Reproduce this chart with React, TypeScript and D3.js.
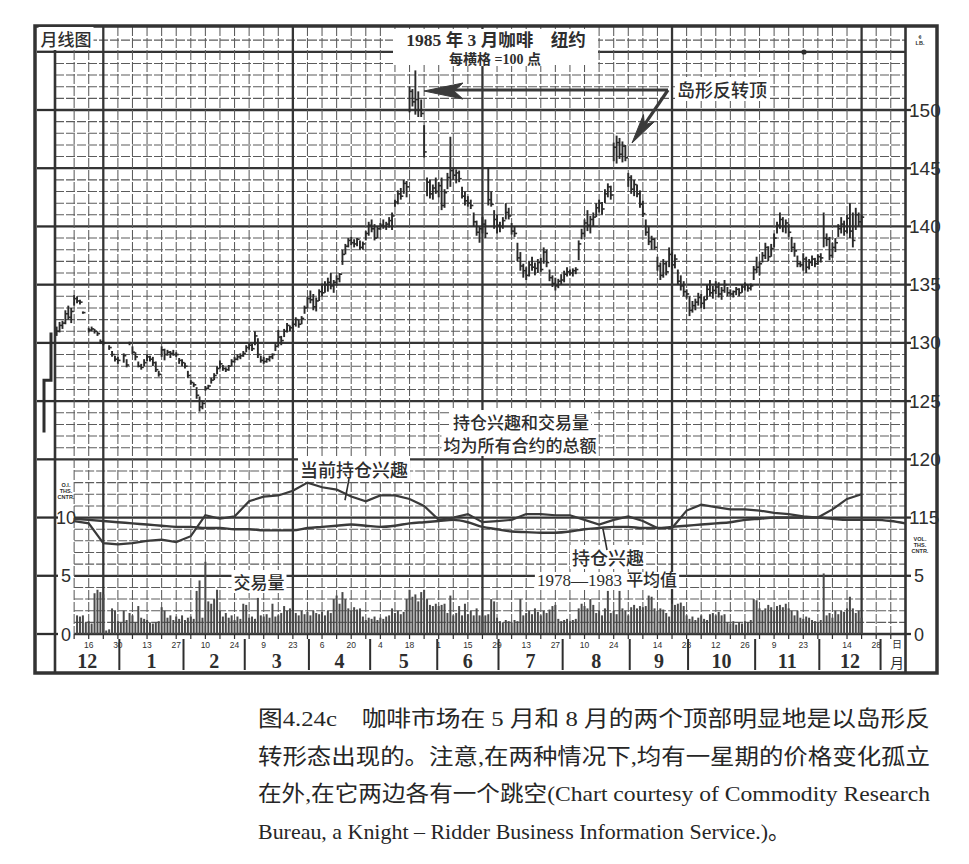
import React, { useEffect, useRef } from "react";
import * as d3 from "d3";

type Bar = [number, number, number] | null;

// March 1985 coffee (New York), daily high / low / close in cents per lb.
// One entry per weekday, starting Thu 1 Dec 1983; null = no bar printed.
const priceStart = "1983-12-01";
const priceBars: Bar[] = [
  [131.4, 130.6, 131.0], [131.8, 130.9, 131.5],
  [131.9, 131.2, 131.7], [132.8, 131.6, 132.5], [133.2, 132.0, 132.2], [133.0, 131.7, 132.7], [134.1, 133.2, 133.8],
  [134.0, 133.4, 133.6], [133.7, 133.3, 133.5], [132.7, 132.5, 132.6], null, [131.3, 130.9, 131.1],
  [131.4, 131.0, 131.2], [131.2, 130.8, 131.0], [131.0, 130.6, 130.8], [130.3, 129.9, 130.1], [130.2, 129.8, 130.0],
  null, [129.8, 129.4, 129.6], [129.3, 128.8, 129.0], [128.9, 128.4, 128.6], [128.8, 128.2, 128.5],
  null, [129.1, 128.3, 128.9], [128.6, 127.9, 128.1], [130.1, 129.8, 130.0], [129.7, 129.0, 129.2],
  [129.2, 128.5, 128.8], [128.4, 127.9, 128.0], [128.2, 127.7, 127.9], [128.6, 128.0, 128.3], [129.0, 128.4, 128.8],
  [128.9, 128.4, 128.6], [128.8, 128.0, 128.3], [128.4, 127.5, 127.7], [127.6, 127.1, 127.3], [129.7, 128.8, 129.4],
  [129.5, 128.5, 129.0], [129.4, 128.9, 129.2], [129.3, 128.7, 129.1], [129.4, 128.9, 129.0], [129.2, 128.8, 129.0],
  [128.7, 128.2, 128.5], [128.6, 128.0, 128.3], [128.3, 127.8, 128.0], [127.6, 127.0, 127.2], [126.8, 126.4, 126.6],
  [126.6, 126.2, 126.4], [126.2, 125.2, 125.5], [125.4, 124.1, 124.5], [125.0, 124.3, 124.8], [126.3, 125.9, 126.1],
  [126.4, 126.0, 126.3], [127.0, 126.5, 126.8], [127.4, 126.8, 127.2], [128.0, 127.3, 127.8], [128.5, 127.8, 128.2],
  [128.1, 127.6, 127.8], [127.9, 127.5, 127.7], [128.1, 127.6, 128.0], [128.6, 128.0, 128.4], [128.8, 128.3, 128.6],
  [129.0, 128.5, 128.8], [129.1, 128.6, 128.9], [129.3, 128.8, 129.1], [129.8, 129.2, 129.6], [130.0, 129.4, 129.8],
  [129.9, 129.3, 129.5], [131.0, 129.8, 130.6], [130.4, 128.7, 129.0], [128.9, 128.3, 128.5], [128.8, 128.2, 128.4],
  [128.7, 128.3, 128.6], [128.9, 128.4, 128.8], [129.1, 128.6, 129.0], [129.9, 129.3, 129.7], [131.1, 129.7, 130.5],
  [130.6, 129.8, 130.2], [131.2, 130.5, 131.0], [131.7, 130.9, 131.5], [131.5, 131.0, 131.3], [131.8, 131.2, 131.6],
  [132.2, 131.4, 132.0], [132.0, 131.3, 131.6], [132.3, 131.6, 132.1], [133.2, 132.5, 133.0], [134.0, 133.0, 133.8],
  [134.5, 133.4, 133.7], [134.2, 132.8, 133.1], [133.9, 132.7, 133.6], [134.6, 133.6, 134.4], [135.1, 134.0, 134.3],
  [135.3, 134.3, 135.0], [135.6, 134.4, 135.2], [136.0, 134.6, 134.9], [135.4, 134.3, 135.2], [135.8, 134.9, 135.5],
  [136.0, 135.2, 135.9], [138.0, 136.7, 137.6], [138.5, 137.6, 138.3], [139.0, 138.2, 138.8], [139.1, 138.4, 138.6],
  [138.9, 138.2, 138.5], [139.0, 138.3, 138.9], [138.8, 138.0, 138.2], [138.7, 138.0, 138.5], [139.6, 138.8, 139.4],
  [140.4, 139.2, 140.1], [140.6, 139.5, 139.8], [140.2, 138.8, 139.0], [140.0, 139.0, 139.8], [140.3, 139.7, 140.1],
  [140.6, 139.8, 140.0], [140.4, 139.7, 140.2], [140.8, 139.9, 140.5], [141.2, 139.7, 140.9], [142.3, 141.7, 142.1],
  [143.1, 141.9, 142.8], [143.3, 142.3, 142.6], [144.0, 142.8, 143.7], [143.9, 142.5, 143.4], [152.0, 149.8, 151.6],
  [151.8, 150.3, 150.7], [153.4, 149.6, 150.9], [151.6, 149.4, 150.0], [150.9, 149.4, 149.7], [148.7, 145.9, 146.4],
  [144.2, 142.6, 143.8], [144.0, 142.4, 142.8], [143.6, 142.3, 143.3], [144.2, 142.8, 143.0], [143.8, 142.5, 143.5],
  [144.2, 141.4, 141.8], [143.2, 141.6, 142.9], [144.6, 143.2, 144.2], [147.7, 143.4, 144.8], [145.1, 144.0, 144.4],
  [144.9, 143.7, 144.6], [144.8, 143.8, 144.1], [143.4, 142.4, 142.6], [143.0, 141.8, 142.2], [142.6, 141.7, 142.0],
  [142.3, 141.5, 141.8], [141.2, 140.0, 140.4], [140.5, 139.2, 139.5], [140.0, 138.6, 139.8], [140.8, 139.4, 140.2],
  [140.6, 139.0, 139.4], [145.1, 141.8, 142.3], [143.0, 141.7, 141.9], [141.4, 139.8, 140.6], [141.0, 139.4, 140.1],
  [140.4, 139.5, 140.0], [140.8, 139.8, 140.5], [142.0, 140.6, 141.2], [141.6, 140.6, 140.9], [140.3, 139.3, 139.6],
  [140.0, 139.1, 139.4], [138.6, 137.0, 137.3], [137.8, 136.2, 136.6], [136.8, 135.6, 136.2], [136.5, 135.4, 135.8],
  [137.0, 135.7, 136.7], [137.4, 136.2, 136.5], [136.9, 135.8, 136.4], [137.2, 136.0, 136.9], [137.3, 136.1, 136.3],
  [138.2, 136.8, 137.8], [138.0, 136.5, 136.9], [136.3, 135.3, 135.6], [135.8, 134.8, 135.1], [135.6, 134.5, 134.9],
  [135.5, 134.7, 135.3], [135.9, 135.0, 135.4], [136.2, 135.2, 135.9], [136.5, 135.7, 136.1], [136.3, 135.8, 136.0],
  [136.4, 135.7, 136.2], [136.5, 135.9, 136.3], [138.8, 137.1, 138.5], [139.8, 138.9, 139.4], [140.6, 139.1, 140.3],
  [141.4, 139.6, 140.1], [140.9, 139.4, 140.6], [141.2, 140.0, 140.8], [142.0, 140.8, 141.6], [142.3, 141.2, 142.0],
  [142.1, 141.0, 141.5], [143.2, 142.0, 142.8], [143.7, 142.5, 143.4], [143.5, 142.3, 142.7], [147.2, 145.6, 146.8],
  [147.8, 145.4, 147.2], [147.6, 145.8, 146.2], [147.3, 145.5, 146.9], [147.0, 145.6, 145.9], [144.6, 143.4, 144.2],
  [144.4, 142.8, 143.2], [144.0, 142.6, 143.6], [143.6, 142.5, 142.8], [143.1, 141.6, 141.9], [142.2, 140.8, 141.1],
  [140.6, 139.2, 139.5], [140.0, 138.4, 138.7], [139.2, 138.0, 138.9], [139.0, 138.0, 138.2], [137.4, 136.2, 136.6],
  [136.9, 135.4, 135.8], [137.2, 135.6, 136.8], [137.0, 135.8, 136.1], [138.2, 136.5, 137.6], [137.8, 136.3, 136.7],
  [137.6, 136.4, 137.2], [136.3, 135.0, 135.3], [135.8, 134.5, 134.9], [135.3, 134.0, 134.4], [134.6, 133.8, 134.2],
  [134.0, 132.3, 132.8], [133.6, 132.6, 133.2], [133.8, 132.8, 133.5], [134.3, 133.2, 133.9], [134.2, 133.0, 133.4],
  [134.0, 132.9, 133.7], [135.0, 133.7, 134.6], [135.4, 134.0, 134.3], [134.9, 133.8, 134.5], [135.3, 134.2, 134.8],
  [135.2, 133.9, 134.2], [134.8, 133.7, 134.5], [135.4, 134.3, 135.0], [134.8, 134.0, 134.3], [134.6, 134.0, 134.2],
  [134.5, 133.9, 134.4], [134.8, 134.1, 134.6], [134.7, 134.0, 134.3], [135.0, 134.3, 134.8], [135.2, 134.5, 135.0],
  [135.0, 134.4, 134.7], [135.1, 134.5, 134.9], [136.6, 135.4, 136.3], [137.4, 136.0, 136.5], [137.0, 135.8, 136.8],
  [137.8, 136.9, 137.5], [138.6, 137.2, 138.2], [138.3, 137.0, 137.4], [138.5, 137.4, 138.1], [139.4, 138.2, 139.0],
  [140.4, 139.4, 140.1], [141.2, 139.8, 140.6], [140.8, 139.5, 140.0], [140.6, 139.4, 140.3], [140.2, 139.1, 139.5],
  [139.1, 137.8, 138.2], [138.6, 137.4, 137.9], [137.5, 136.5, 136.8], [137.0, 136.5, 136.7], [137.7, 136.2, 137.2],
  [137.4, 136.0, 136.5], [137.2, 136.3, 136.9], [137.5, 136.6, 137.2], [137.3, 136.5, 136.8], [137.6, 136.7, 137.4],
  [137.7, 136.9, 137.3], [141.2, 138.2, 139.0], [139.4, 138.3, 138.9], [139.1, 137.1, 137.5], [138.6, 137.3, 138.2],
  [139.0, 137.8, 138.6], [140.2, 139.1, 139.8], [140.8, 139.4, 140.2], [140.5, 139.2, 139.6], [141.0, 139.4, 140.7],
  [142.0, 139.0, 139.6], [141.2, 138.2, 138.8], [141.6, 139.7, 141.0], [141.2, 140.0, 140.4], [141.0, 139.9, 140.8],
];

// daily volume, all contracts, thousand contracts, from Mon 12 Dec 1983
const volumeStart = "1983-12-12";
const volume: number[] = [
  1.6, 1.5, 1.6, 1.0, 1.1, 0.9, 3.5, 3.8, 3.6, 3.4, 0.3, 0.4, 2.2, 2.0, 1.1,
  1.0, 2.0, 1.2, 1.8, 1.6, 1.0, 2.4, 1.4, 1.3, 1.2, 1.0, 0.9, 1.0, 1.1, 2.3,
  2.0, 1.4, 1.6, 1.2, 1.5, 1.3, 1.6, 1.2, 1.4, 1.5, 1.3, 3.7, 4.6, 1.4, 6.2,
  2.8, 2.6, 3.0, 3.8, 2.0, 1.5, 1.8, 1.4, 1.6, 1.2, 1.5, 1.3, 2.6, 2.5, 1.4,
  1.5, 1.3, 3.1, 1.6, 1.5, 1.7, 1.4, 2.6, 1.5, 1.6, 1.8, 2.4, 2.0, 2.2, 2.0,
  1.8, 1.6, 2.0, 1.7, 1.9, 1.6, 2.0, 1.8, 1.7, 1.9, 1.6, 2.0, 1.8, 3.0, 3.3,
  2.6, 3.6, 3.0, 2.2, 2.0, 2.3, 2.1, 2.2, 1.5, 1.2, 1.4, 1.3, 1.5, 1.2, 1.4,
  1.3, 1.5, 1.6, 2.2, 1.8, 2.0, 1.7, 1.9, 3.0, 3.8, 3.2, 3.4, 2.8, 3.6, 3.8,
  3.0, 2.5, 2.4, 2.6, 2.4, 2.5, 2.6, 1.8, 3.3, 1.6, 1.8, 2.4, 1.6, 2.6, 1.7,
  2.0, 1.6, 2.2, 1.6, 1.5, 1.6, 1.7, 3.0, 2.8, 1.4, 1.1, 1.0, 1.2, 1.1, 1.0,
  1.2, 1.1, 3.0, 1.6, 1.8, 2.0, 1.7, 2.2, 1.9, 1.6, 2.0, 1.8, 2.1, 2.4, 2.5,
  1.3, 1.1, 1.2, 1.3, 1.1, 1.2, 1.3, 2.2, 2.6, 2.4, 2.2, 3.0, 2.5, 1.8, 2.0,
  1.6, 2.2, 3.7, 1.8, 2.0, 1.7, 3.7, 2.2, 2.0, 1.6, 2.3, 2.5, 2.2, 2.4, 2.3,
  2.4, 3.3, 3.2, 2.2, 2.0, 2.2, 2.1, 1.8, 1.5, 2.6, 2.5, 2.6, 2.7, 2.4, 1.6,
  1.3, 1.5, 1.2, 1.4, 1.6, 1.3, 1.2, 1.7, 1.8, 1.6, 1.9, 1.6, 1.7, 1.0, 0.9,
  1.1, 0.8, 1.0, 0.9, 1.1, 1.0, 1.2, 3.0, 2.9, 2.2, 2.0, 2.2, 2.5, 2.3, 2.0,
  2.4, 2.5, 2.3, 2.6, 2.2, 2.0, 1.6, 2.0, 1.4, 1.3, 1.5, 1.4, 1.2, 1.1, 1.0,
  1.2, 5.2, 1.6, 1.8, 1.4, 2.0, 1.7, 2.0, 1.9, 2.2, 3.2, 2.2, 1.8, 2.0, 1.4,
];

// open interest, thousand contracts, read every Friday from 9 Dec 1983
const oiStart = "1983-12-09";
const openInterest: number[] = [
  9.7, 9.5, 7.8, 7.7, 7.8, 8.0, 8.1, 7.9, 8.4, 10.2,
  9.9, 10.1, 11.4, 11.8, 11.9, 12.3, 13.0, 12.6, 12.4, 11.8,
  11.4, 11.9, 11.9, 11.6, 11.0, 9.8, 10.0, 10.3, 9.6, 9.7,
  9.8, 10.3, 10.3, 10.2, 10.2, 9.8, 9.4, 9.8, 10.1, 9.7,
  9.1, 9.1, 10.6, 11.1, 10.9, 10.7, 10.7, 10.6, 10.4, 10.3,
  10.1, 10.0, 10.7, 11.6, 12.0,
];
// 1978-1983 average open interest, same Fridays
const avgOpenInterest: number[] = [
  9.9, 9.8, 9.7, 9.6, 9.5, 9.4, 9.3, 9.2, 9.2, 9.1,
  9.1, 9.0, 9.0, 8.9, 8.9, 8.9, 9.1, 9.2, 9.3, 9.4,
  9.3, 9.2, 9.3, 9.5, 9.6, 9.7, 9.8, 9.6, 9.2, 9.0,
  8.8, 8.75, 8.7, 8.7, 8.8, 9.0, 9.1, 9.2, 9.2, 9.1,
  9.1, 9.2, 9.3, 9.4, 9.5, 9.6, 9.8, 9.9, 10.0, 10.0,
  10.0, 10.0, 9.9, 9.8, 9.8, 9.8, 9.7, 9.5,
];

// small monthly chart at the left edge: [high, low]
const monthlyBars: [number, number][] = [
  [126.8, 122.3],
  [130.9, 126.8],
];

const dayTicks = [
  "1983-12-16", "1983-12-30", "1984-01-13", "1984-01-27", "1984-02-10", "1984-02-24",
  "1984-03-09", "1984-03-23", "1984-04-06", "1984-04-20", "1984-05-04", "1984-05-18",
  "1984-06-01", "1984-06-15", "1984-06-29", "1984-07-13", "1984-07-27", "1984-08-10",
  "1984-08-24", "1984-09-14", "1984-09-28", "1984-10-12", "1984-10-26", "1984-11-09",
  "1984-11-23", "1984-12-14", "1984-12-28",
];
const monthStarts = [
  "1983-12-01", "1984-01-01", "1984-02-01", "1984-03-01", "1984-04-01", "1984-05-01",
  "1984-06-01", "1984-07-01", "1984-08-01", "1984-09-01", "1984-10-01", "1984-11-01",
  "1984-12-01", "1985-01-01",
];
const monthNames = ["12", "1", "2", "3", "4", "5", "6", "7", "8", "9", "10", "11", "12"];
const priceTicks = [150, 145, 140, 135, 130, 125, 120, 115];
const leftVolTicks = [10, 5, 0];
const rightVolTicks = [5, 0];

const captionLines = [
  "图4.24c　咖啡市场在 5 月和 8 月的两个顶部明显地是以岛形反",
  "转形态出现的。注意,在两种情况下,均有一星期的价格变化孤立",
  "在外,在它两边各有一个跳空(Chart courtesy of Commodity Research",
  "Bureau, a Knight – Ridder Business Information Service.)。",
];

const parse = d3.timeParse("%Y-%m-%d");
const origin = parse("1983-11-28")!; // a Monday

// weekday count since origin (weekends roll forward to the next Monday)
function tradingIndex(s: string) {
  const days = d3.timeDay.count(origin, parse(s)!);
  const wk = Math.floor(days / 7);
  const dow = days % 7;
  return dow > 4 ? wk * 5 + 5 : wk * 5 + dow;
}

export default function App() {
  const svgRef = useRef<SVGSVGElement>(null);

  useEffect(() => {
    if (!svgRef.current) return;
    const svg = d3.select(svgRef.current);
    svg.selectAll("*").remove();

    const ink = "#2e2e2e";
    const serifCjk = "'Liberation Serif', 'Noto Sans CJK SC', serif";
    const sansCjk = "'Noto Sans CJK SC', 'Liberation Sans', sans-serif";
    const sans = "'Liberation Sans', Arial, sans-serif";
    const narrow = "'Liberation Sans Narrow', 'Liberation Sans', sans-serif";

    const frame = { left: 35, right: 937, top: 26, bottom: 673 };
    const plotLeft = 55;
    const plotRight = 905.5;

    // weekday index -> x (Fridays fall on the weekly grid lines)
    const xScale = d3
      .scaleLinear()
      .domain([tradingIndex("1983-12-23"), tradingIndex("1984-12-21")])
      .range([103.3, 861.6]);
    const yScale = d3.scaleLinear().domain([105, 150]).range([634, 110]);
    const vScale = d3.scaleLinear().domain([0, 10]).range([yScale(105), yScale(115)]);

    const firstFriday = tradingIndex(oiStart);
    const volLeft = xScale(firstFriday);
    const zeroY = yScale(105);

    svg.append("rect").attr("width", 969).attr("height", 864).attr("fill", "#fff");

    // grid
    const grid = svg.append("g");
    d3.range(105, 157).forEach((p) => {
      const y = yScale(p);
      const major = p % 5 === 0;
      grid
        .append("line")
        .attr("x1", p >= 120 ? plotLeft : volLeft)
        .attr("x2", plotRight)
        .attr("y1", y)
        .attr("y2", y)
        .attr("stroke", major ? "#353535" : "#5c5c5c")
        .attr("stroke-width", major ? 2.3 : 1.05)
        .attr("stroke-dasharray", major ? null : "9 2");
    });
    d3.range(firstFriday, xScale.invert(plotRight) - 1, 5).forEach((t) => {
      const x = xScale(t);
      const major = (t - tradingIndex("1983-12-23")) % 65 === 0;
      grid
        .append("line")
        .attr("x1", x)
        .attr("x2", x)
        .attr("y1", frame.top)
        .attr("y2", zeroY)
        .attr("stroke", major ? "#353535" : "#5c5c5c")
        .attr("stroke-width", major ? 2.3 : 1.05)
        .attr("stroke-dasharray", major ? null : "10 2");
      grid
        .append("line")
        .attr("x1", x)
        .attr("x2", x)
        .attr("y1", zeroY)
        .attr("y2", zeroY + 5)
        .attr("stroke", ink)
        .attr("stroke-width", 1.2);
    });

    // outside ticks on the price scale (right) and volume / open interest scales
    priceTicks.forEach((p) => {
      const y = yScale(p);
      grid.append("line").attr("x1", plotRight).attr("x2", 911).attr("y1", y).attr("y2", y)
        .attr("stroke", ink).attr("stroke-width", 2.3);
      if (p >= 120)
        grid.append("line").attr("x1", frame.left + 2).attr("x2", plotLeft).attr("y1", y).attr("y2", y)
          .attr("stroke", ink).attr("stroke-width", 2.3);
    });
    leftVolTicks.forEach((v) => {
      const y = vScale(v);
      grid.append("line").attr("x1", frame.left + 2).attr("x2", 58).attr("y1", y).attr("y2", y)
        .attr("stroke", ink).attr("stroke-width", 2.3);
    });
    rightVolTicks.forEach((v) => {
      const y = vScale(v);
      grid.append("line").attr("x1", plotRight).attr("x2", 911).attr("y1", y).attr("y2", y)
        .attr("stroke", ink).attr("stroke-width", 2.3);
    });
    grid.append("line").attr("x1", frame.left + 2).attr("x2", plotLeft)
      .attr("y1", yScale(155)).attr("y2", yScale(155)).attr("stroke", ink).attr("stroke-width", 2.3);

    // month separators and labels in the date band
    const sepX = (s: string) => Math.max(xScale(tradingIndex(s) - 0.5), plotLeft);
    monthStarts.slice(1).forEach((s) => {
      const x = sepX(s);
      grid.append("line").attr("x1", x).attr("x2", x).attr("y1", zeroY + 5).attr("y2", frame.bottom - 3)
        .attr("stroke", ink).attr("stroke-width", 2);
    });
    monthNames.forEach((m, i) => {
      const cx = (sepX(monthStarts[i]) + sepX(monthStarts[i + 1])) / 2;
      svg.append("text").attr("x", cx).attr("y", 668).attr("text-anchor", "middle")
        .attr("font-family", "'Liberation Serif', serif").attr("font-weight", "bold")
        .attr("font-size", 20).attr("fill", ink).text(m);
    });
    dayTicks.forEach((d) => {
      svg.append("text").attr("x", xScale(tradingIndex(d))).attr("y", 648).attr("text-anchor", "middle")
        .attr("font-family", sans).attr("font-size", 8.5).attr("fill", ink).text(String(+d.slice(8)));
    });
    svg.append("text").attr("x", 897).attr("y", 648).attr("text-anchor", "middle")
      .attr("font-family", sansCjk).attr("font-size", 10).attr("fill", ink).text("日");
    svg.append("text").attr("x", 897).attr("y", 668).attr("text-anchor", "middle")
      .attr("font-family", sansCjk).attr("font-size", 14).attr("fill", ink).text("月");

    // frame
    svg.append("rect").attr("x", frame.left).attr("y", frame.top)
      .attr("width", frame.right - frame.left).attr("height", frame.bottom - frame.top)
      .attr("fill", "none").attr("stroke", "#333").attr("stroke-width", 3.5);
    [plotLeft, plotRight].forEach((x) => {
      svg.append("line").attr("x1", x).attr("x2", x).attr("y1", frame.top).attr("y2", frame.bottom)
        .attr("stroke", "#333").attr("stroke-width", 2.6);
    });

    // axis numbers
    priceTicks.forEach((p) => {
      svg.append("text").attr("x", 909).attr("y", yScale(p) + 6.5)
        .attr("font-family", narrow).attr("font-size", 19).attr("fill", ink).text(p);
    });
    leftVolTicks.forEach((v) => {
      svg.append("text").attr("x", 66).attr("y", vScale(v) + 6.5).attr("text-anchor", "middle")
        .attr("font-family", sans).attr("font-size", 18).attr("fill", ink).text(v);
    });
    rightVolTicks.forEach((v) => {
      svg.append("text").attr("x", 919).attr("y", vScale(v) + 6.5).attr("text-anchor", "middle")
        .attr("font-family", sans).attr("font-size", 18).attr("fill", ink).text(v);
    });
    const tiny = (x: number, y: number, lines: string[]) =>
      lines.forEach((l, i) =>
        svg.append("text").attr("x", x).attr("y", y + i * 6).attr("text-anchor", "middle")
          .attr("font-family", sans).attr("font-weight", "bold").attr("font-size", 5.5)
          .attr("fill", ink).text(l)
      );
    tiny(66, 487, ["O.I.", "THS.", "CNTR."]);
    tiny(920, 541, ["VOL.", "THS.", "CNTR."]);
    tiny(920, 39, ["¢", "LB."]);

    // monthly chart strip on the left edge
    const mx = [44, 51];
    const mPath = d3.path();
    monthlyBars.forEach(([hi, lo], i) => {
      if (i === 0) mPath.moveTo(mx[i], yScale(lo));
      else mPath.lineTo(mx[i], yScale(lo));
      mPath.lineTo(mx[i], yScale(hi));
    });
    svg.append("path").attr("d", mPath.toString()).attr("fill", "none")
      .attr("stroke", ink).attr("stroke-width", 3);

    // volume bars
    const v0 = tradingIndex(volumeStart);
    svg.append("g").selectAll("line").data(volume).enter().append("line")
      .attr("x1", (_, i) => xScale(v0 + i)).attr("x2", (_, i) => xScale(v0 + i))
      .attr("y1", zeroY).attr("y2", (d) => vScale(d))
      .attr("stroke", "#4a4a4a").attr("stroke-width", 2);

    // open interest lines
    const oiLine = d3.line<number>()
      .x((_, i) => xScale(firstFriday + 5 * i))
      .y((d) => vScale(d));
    svg.append("path").datum(avgOpenInterest).attr("fill", "none").attr("stroke", "#3a3a3a")
      .attr("stroke-width", 2.4).attr("d", oiLine.curve(d3.curveMonotoneX));
    svg.append("path").datum(openInterest).attr("fill", "none").attr("stroke", "#3a3a3a")
      .attr("stroke-width", 2.2).attr("d", oiLine.curve(d3.curveLinear));

    // price bars
    const p0 = tradingIndex(priceStart);
    const bars = svg.append("g").attr("stroke", "#2a2a2a");
    priceBars.forEach((b, i) => {
      if (!b) return;
      const x = xScale(p0 + i);
      bars.append("line").attr("x1", x).attr("x2", x).attr("y1", yScale(b[0])).attr("y2", yScale(b[1]))
        .attr("stroke-width", 1.9);
      bars.append("line").attr("x1", x).attr("x2", x + 2.6).attr("y1", yScale(b[2])).attr("y2", yScale(b[2]))
        .attr("stroke-width", 1.6);
    });

    // labels on white patches (patches in their own layer, under every label text)
    const patches = svg.append("g").attr("fill", "#fff");
    const texts = svg.append("g");
    const label = (x: number, y: number, text: string, size: number, anchor = "middle",
      family = sansCjk, weight = "500") => {
      const t = texts.append("text").attr("x", x).attr("y", y).attr("text-anchor", anchor)
        .attr("font-family", family).attr("font-size", size).attr("font-weight", weight)
        .attr("fill", ink).text(text);
      const bb = (t.node() as SVGTextElement).getBBox();
      patches.append("rect")
        .attr("x", bb.x - 2).attr("y", bb.y + 1).attr("width", bb.width + 4).attr("height", bb.height - 2);
      return t;
    };
    label(66, 46, "月线图", 17);
    patches.append("rect").attr("x", 393).attr("y", 29).attr("width", 205).attr("height", 36);
    label(496, 46, "1985 年 3 月咖啡　纽约", 17.5, "middle", serifCjk, "bold");
    label(495, 64, "每横格 =100 点", 14, "middle", serifCjk, "bold");
    label(722, 97, "岛形反转顶", 18);
    label(521, 429, "持仓兴趣和交易量", 17);
    label(520, 452, "均为所有合约的总额", 17);
    label(354, 477, "当前持仓兴趣", 18);
    label(259, 589, "交易量", 17);
    label(608, 565, "持仓兴趣", 18);
    label(607, 586, "1978—1983 平均值", 17, "middle", serifCjk, "500");

    // pointer lines for the open-interest labels
    svg.append("line").attr("x1", 349).attr("y1", 479).attr("x2", 345).attr("y2", vScale(openInterest[20]) - 1)
      .attr("stroke", ink).attr("stroke-width", 1.6);
    svg.append("line").attr("x1", 607).attr("y1", 550).attr("x2", 603).attr("y2", vScale(avgOpenInterest[37]) + 2)
      .attr("stroke", ink).attr("stroke-width", 1.6);

    // island reversal arrows
    const arrow = svg.append("g").attr("fill", "#3a3a3a").attr("stroke", "#3a3a3a");
    arrow.append("line").attr("x1", 668).attr("y1", 90).attr("x2", 455).attr("y2", 90).attr("stroke-width", 3.2);
    arrow.append("polygon").attr("points", "424,91 463,83 454,91 463,99").attr("stroke-width", 1);
    const tip = [632, 143];
    const from = [668, 90];
    const len = Math.hypot(from[0] - tip[0], from[1] - tip[1]);
    const u = [(from[0] - tip[0]) / len, (from[1] - tip[1]) / len];
    const n = [-u[1], u[0]];
    const base = [tip[0] + 30 * u[0], tip[1] + 30 * u[1]];
    const notch = [tip[0] + 22 * u[0], tip[1] + 22 * u[1]];
    arrow.append("line").attr("x1", from[0]).attr("y1", from[1]).attr("x2", notch[0]).attr("y2", notch[1])
      .attr("stroke-width", 3.2);
    arrow.append("polygon").attr("stroke-width", 1).attr("points", [
      tip,
      [base[0] + 6.5 * n[0], base[1] + 6.5 * n[1]],
      notch,
      [base[0] - 6.5 * n[0], base[1] - 6.5 * n[1]],
    ].map((p) => p.join(",")).join(" "));
    svg.append("circle").attr("cx", 804).attr("cy", 52).attr("r", 2.6).attr("fill", ink);

    // caption
    captionLines.forEach((line, i) => {
      svg.append("text").attr("x", 258).attr("y", 726 + i * 37.5)
        .attr("font-family", serifCjk).attr("font-size", 22).attr("fill", "#262626")
        .attr("textLength", i === 3 ? 532 : 672).attr("lengthAdjust", "spacingAndGlyphs")
        .text(line);
    });
  }, []);

  return (
    <div style={{ position: "absolute", left: 0, top: 0 }}>
      <svg ref={svgRef} width={969} height={864} style={{ display: "block" }} />
    </div>
  );
}
